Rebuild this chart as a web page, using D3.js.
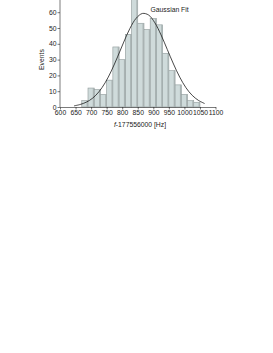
<!DOCTYPE html>
<html>
<head>
<meta charset="utf-8">
<script src="https://cdn.jsdelivr.net/npm/d3@7"></script>
<style>
  body { margin: 0; background: #fff; }
  svg { display: block; }
  .axis text { font-family: "Liberation Sans", Arial, sans-serif; font-size: 6.8px; fill: #222; }
  .axis path, .axis line { stroke: #222; stroke-width: 0.6; }
  .lbl { font-family: "Liberation Sans", Arial, sans-serif; font-size: 6.8px; fill: #222; }
</style>
</head>
<body>
<div id="chart"></div>
<script>
// histogram bins (centre in Hz, 20 Hz wide) and counts
var binCenters = [680, 700, 720, 740, 760, 780, 800, 820, 840, 860, 880, 900, 920, 940, 960, 980, 1000, 1020, 1040];
var counts     = [4, 12, 11, 8, 17, 38, 30, 46, 72, 53, 49, 56, 52, 34, 23, 14, 8, 4, 3];

// gaussian fit curve
var fitX = [645, 665, 685, 705, 725, 745, 765, 785, 805, 825, 845, 865, 885, 905, 925, 945, 965, 985, 1005, 1025, 1045, 1065];
var fitY = [0.7, 1.6, 3.1, 5.6, 9.6, 15.3, 22.8, 31.7, 41.1, 49.8, 56.2, 59.2, 58.2, 53.3, 45.6, 36.4, 27.2, 18.9, 12.2, 7.4, 4.2, 2.2];

var xTicks = [600, 650, 700, 750, 800, 850, 900, 950, 1000, 1050, 1100];
var yTicks = [0, 10, 20, 30, 40, 50, 60];

var width = 273,
    height = 353,
    binWidth = 20;

var svg = d3.select("#chart").append("svg")
    .attr("width", width)
    .attr("height", height);

var x = d3.scaleLinear().domain([600, 1100]).range([60, 215.5]);
var y = d3.scaleLinear().domain([0, 60]).range([107, 12.2]);

var bins = binCenters.map(function(c, i) { return { c: c, n: counts[i] }; });

var bars = svg.append("g").attr("class", "bars");

bars.selectAll("rect.bar").data(bins).enter().append("rect")
    .attr("class", "bar")
    .attr("x", function(d) { return x(d.c - binWidth / 2); })
    .attr("y", function(d) { return y(d.n); })
    .attr("width", function(d) { return x(d.c + binWidth / 2) - x(d.c - binWidth / 2); })
    .attr("height", function(d) { return y(0) - y(d.n); })
    .attr("fill", "#cfdbdb")
    .attr("stroke", "#8f9999")
    .attr("stroke-width", 0.6);

// darker right side of each bar
bars.selectAll("rect.shade").data(bins).enter().append("rect")
    .attr("class", "shade")
    .attr("x", function(d) { return x(d.c + binWidth / 2) - 1.4; })
    .attr("y", function(d) { return y(d.n); })
    .attr("width", 1.4)
    .attr("height", function(d) { return y(0) - y(d.n); })
    .attr("fill", "#a9b3b3");

var line = d3.line()
    .x(function(d) { return x(d[0]); })
    .y(function(d) { return y(d[1]); })
    .curve(d3.curveCatmullRom);

svg.append("path")
    .datum(fitX.map(function(v, i) { return [v, fitY[i]]; }))
    .attr("d", line)
    .attr("fill", "none")
    .attr("stroke", "#1a1a1a")
    .attr("stroke-width", 0.8);

var xAxis = svg.append("g")
    .attr("class", "axis")
    .attr("transform", "translate(0," + y(0) + ")")
    .call(d3.axisBottom(x).tickValues(xTicks).tickFormat(d3.format("d"))
        .tickSize(2.5).tickSizeOuter(0).tickPadding(1));

var yAxis = svg.append("g")
    .attr("class", "axis")
    .attr("transform", "translate(" + x(600) + ",0)")
    .call(d3.axisLeft(y).tickValues(yTicks).tickFormat(d3.format("d"))
        .tickSize(2.5).tickSizeOuter(0).tickPadding(1));
yAxis.select(".domain").attr("d", "M0," + y(0) + "V" + y(72));

svg.append("text")
    .attr("class", "lbl")
    .attr("transform", "translate(44," + y(30) + ") rotate(-90)")
    .attr("text-anchor", "middle")
    .text("Events");

var xl = svg.append("text")
    .attr("class", "lbl")
    .attr("x", 140)
    .attr("y", 127)
    .attr("text-anchor", "middle");
xl.append("tspan").attr("font-style", "italic").text("f");
xl.append("tspan").text("-177556000 [Hz]");

svg.append("text")
    .attr("class", "lbl")
    .attr("x", 150.5)
    .attr("y", 11.8)
    .text("Gaussian Fit");
</script>
</body>
</html>
